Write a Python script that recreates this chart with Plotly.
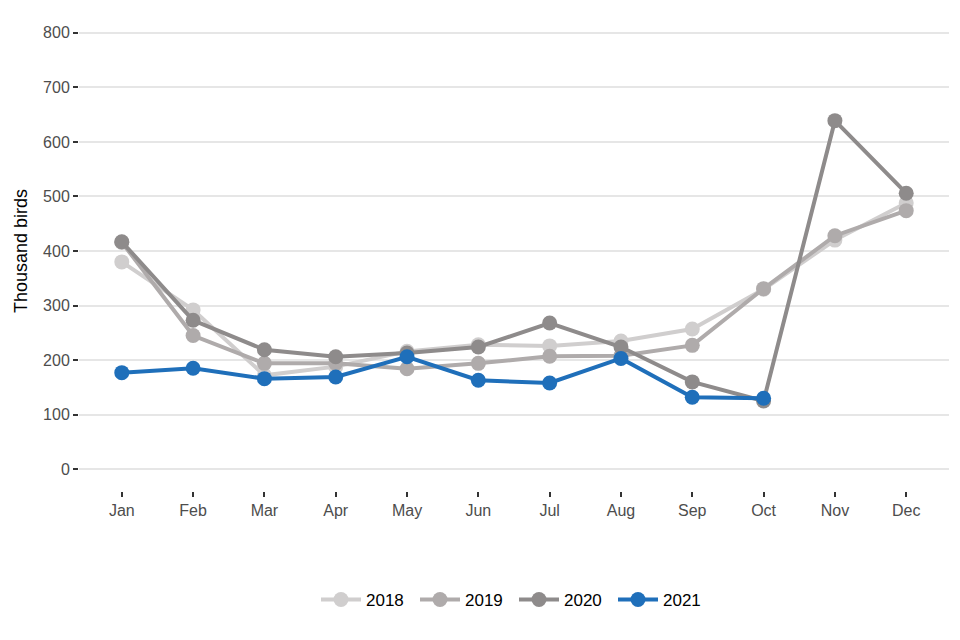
import plotly.graph_objects as go

# Monthly values, thousand birds
months = ["Jan", "Feb", "Mar", "Apr", "May", "Jun",
          "Jul", "Aug", "Sep", "Oct", "Nov", "Dec"]

birds_2018 = [380, 292, 172, 188, 216, 228, 226, 235, 257, 330, 420, 488]
birds_2019 = [416, 245, 194, 194, 184, 194, 207, 208, 227, 331, 428, 474]
birds_2020 = [417, 273, 219, 206, 213, 224, 268, 224, 160, 125, 639, 506]
birds_2021 = [177, 185, 166, 169, 206, 163, 158, 203, 132, 130]

years = ["2018", "2019", "2020", "2021"]
colours = ["#D0CECE", "#AFABAB", "#8E8B8B", "#1F6FBA"]
series = [birds_2018, birds_2019, birds_2020, birds_2021]

fig = go.Figure()
for year, colour, values in zip(years, colours, series):
    fig.add_trace(go.Scatter(
        x=months[:len(values)],
        y=values,
        name=year,
        mode="lines+markers",
        line=dict(color=colour, width=4),
        marker=dict(color=colour, size=15),
    ))

# the page body has an 8px margin, so the margins here are offset by 8
fig.update_layout(
    width=960,
    height=640,
    plot_bgcolor="white",
    paper_bgcolor="white",
    font=dict(family="Liberation Sans, Arial, sans-serif", color="#4D4D4D"),
    margin=dict(l=71, r=19, t=3, b=157, autoexpand=False),
    legend=dict(
        orientation="h",
        x=0.5, xanchor="center",
        y=-0.227, yanchor="middle",
        font=dict(size=17, color="black"),
        itemwidth=40,
        entrywidth=44,
    ),
    xaxis=dict(
        categoryorder="array",
        categoryarray=months,
        range=[-0.6, 11.6],
        showgrid=False,
        ticks="outside",
        ticklen=5,
        tickwidth=1.5,
        tickcolor="#333333",
        tickfont=dict(size=16, color="#4D4D4D"),
        showline=False,
        zeroline=False,
    ),
    yaxis=dict(
        range=[-40, 840],
        tickvals=[0, 100, 200, 300, 400, 500, 600, 700, 800],
        showgrid=True,
        gridcolor="#E6E6E6",
        gridwidth=1.5,
        ticks="outside",
        ticklen=5,
        tickwidth=1.5,
        tickcolor="#333333",
        tickfont=dict(size=16, color="#4D4D4D"),
        zeroline=False,
        showline=False,
        automargin=True,
        title=dict(text="Thousand birds", font=dict(size=18, color="black"), standoff=10),
    ),
)

fig.write_html("out.html")
